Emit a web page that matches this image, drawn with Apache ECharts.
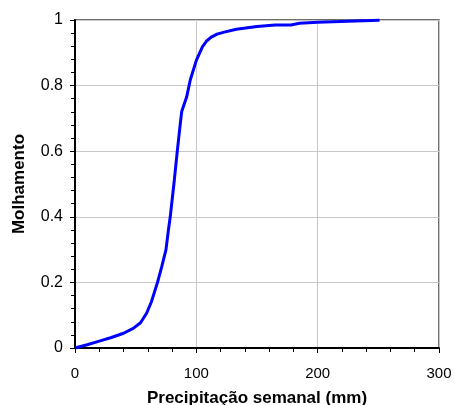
<!DOCTYPE html>
<html>
<head>
<meta charset="utf-8">
<script src="https://cdn.jsdelivr.net/npm/echarts@6/dist/echarts.min.js"></script>
<style>html,body{margin:0;padding:0;background:#fff}#c{width:455px;height:405px}</style>
</head>
<body>
<div id="c"></div>
<script>
var precip = [0, 10, 20, 30, 40, 48, 54, 59, 63, 68, 71.5, 75, 77, 78.5, 81.8, 84.3, 86.5, 88, 92, 95, 100, 105, 108.5, 112, 117, 123, 133, 150, 165, 178, 185, 200, 225, 251];
var molhamento = [0, 0.01, 0.021, 0.032, 0.045, 0.06, 0.077, 0.106, 0.141, 0.2, 0.248, 0.3, 0.36, 0.4, 0.51, 0.6, 0.675, 0.722, 0.765, 0.817, 0.877, 0.918, 0.936, 0.947, 0.957, 0.963, 0.972, 0.98, 0.985, 0.985, 0.99, 0.993, 0.996, 0.999];
var xTicks = [0, 100, 200, 300];
var yTicks = [0, 0.2, 0.4, 0.6, 0.8, 1];

var pts = precip.map(function (x, i) { return [x, molhamento[i]]; });
var font = 'Liberation Sans, Arial, sans-serif';
var chart = echarts.init(document.getElementById('c'));
chart.setOption({
  animation: false,
  grid: { left: 75, top: 20, right: 16, bottom: 57, containLabel: false, outerBoundsMode: 'none',
          show: true, borderColor: '#404040', borderWidth: 1.5, backgroundColor: '#fff' },
  xAxis: {
    type: 'value', min: xTicks[0], max: xTicks[xTicks.length - 1], interval: 100,
    name: 'Precipitação semanal (mm)', nameLocation: 'middle', nameGap: 42,
    nameTextStyle: { fontFamily: font, fontSize: 17, fontWeight: 'bold', color: '#000' },
    axisLine: { show: true, lineStyle: { color: '#000', width: 2 } },
    axisTick: { show: true, length: 5, lineStyle: { color: '#000', width: 1 } },
    minorTick: { show: true, splitNumber: 5, length: 4, lineStyle: { color: '#000', width: 1 } },
    axisLabel: { fontFamily: font, fontSize: 15, color: '#000', margin: 18 },
    splitLine: { show: true, lineStyle: { color: '#c8c8c8', width: 1 } }
  },
  yAxis: {
    type: 'value', min: yTicks[0], max: yTicks[yTicks.length - 1], interval: 0.2,
    name: 'Molhamento', nameLocation: 'middle', nameGap: 47,
    nameTextStyle: { fontFamily: font, fontSize: 17, fontWeight: 'bold', color: '#000' },
    axisLine: { show: true, lineStyle: { color: '#000', width: 2 } },
    axisTick: { show: true, length: 5, lineStyle: { color: '#000', width: 1 } },
    minorTick: { show: true, splitNumber: 5, length: 4, lineStyle: { color: '#000', width: 1 } },
    axisLabel: { fontFamily: font, fontSize: 16, color: '#000', margin: 12 },
    splitLine: { show: true, lineStyle: { color: '#c8c8c8', width: 1 } }
  },
  series: [{
    type: 'line', data: pts, showSymbol: false, symbol: 'none', smooth: false, clip: false,
    lineStyle: { color: '#0000ff', width: 3 }
  }]
});
</script>
</body>
</html>
